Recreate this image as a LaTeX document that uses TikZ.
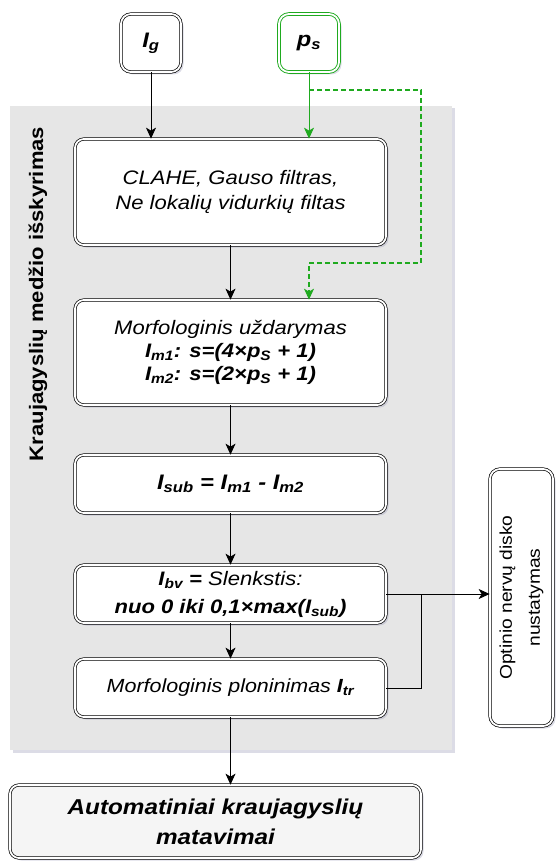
\documentclass[tikz,border=0pt]{standalone}
\usepackage{fontspec}
\setmainfont{Liberation Sans}[FakeStretch=1.13]
\usepackage{xcolor}
\usepackage{tikz}
\usetikzlibrary{shapes,arrows.meta,positioning,shadows}

\definecolor{regiongray}{HTML}{E6E6E6}
\definecolor{bottomgray}{HTML}{F5F5F5}
\definecolor{psgreen}{HTML}{1FAA1F}
\definecolor{shadowblue}{HTML}{9A9AB8}

\newcommand{\bi}[1]{{\bfseries\itshape #1}}
\newcommand{\sbs}[1]{\textsubscript{#1}}

\begin{document}
\begin{tikzpicture}[x=1pt, y=-1pt,
        softshadow/.style={drop shadow={shadow xshift=2.5pt, shadow yshift=-2.5pt, opacity=0.35, fill=shadowblue}},
        block/.style={draw, double, double distance=1.8pt, line width=0.7pt, rounded corners=9pt,
            fill=white, align=center, minimum width=311pt, softshadow,
            font=\fontsize{19.5}{25}\selectfont\itshape},
        inbox/.style={block, minimum width=60pt, minimum height=58pt, rounded corners=10pt,
            font=\fontsize{21}{24}\selectfont\bfseries\itshape},
        arr/.style={-{Stealth[length=11pt,width=10pt,inset=3pt]}, line width=0.8pt},
        garr/.style={arr, color=psgreen}]

    \useasboundingbox (0,0) rectangle (558,861);

    % extraction region
    \fill[regiongray, softshadow] (10,106) rectangle (452,750);
    \node[rotate=90, font=\fontsize{19.5}{24}\selectfont\bfseries] (regionlabel) at (38,294)
        {Kraujagyslių medžio išskyrimas};

    % inputs
    \node[inbox] (ig) at (151,43) {I\sbs{g}};
    \node[inbox, draw=psgreen, line width=0.9pt] (ps) at (309,43) {p\sbs{s}};

    % processing steps
    \node[block, minimum height=106pt] (prep) at (230.5,192)
        {CLAHE, Gauso filtras,\\Ne lokalių vidurkių filtas};
    \node[block, minimum height=105pt, font=\fontsize{19.5}{23}\selectfont\itshape] (closing) at (230.5,352.5)
        {Morfologinis uždarymas\\
         \bi{I\sbs{m1}: s=(4×p\sbs{S} + 1)}\\
         \bi{I\sbs{m2}: s=(2×p\sbs{S} + 1)}};
    \node[block, minimum height=58pt, font=\fontsize{21}{24}\selectfont\bfseries\itshape] (sub) at (230.5,484)
        {I\sbs{sub} = I\sbs{m1} - I\sbs{m2}};
    \node[block, minimum height=58pt, font=\fontsize{19.5}{28}\selectfont\itshape] (thresh) at (230.5,594)
        {\bi{I\sbs{bv} =} Slenkstis:\\
         \bi{nuo 0 iki 0,1×max(I\sbs{sub})}};
    \node[block, minimum height=58pt, font=\fontsize{19}{24}\selectfont\itshape] (thin) at (230.5,688)
        {Morfologinis ploninimas \bi{I\sbs{tr}}};

    % outputs
    \node[block, rotate=90, minimum width=257pt, minimum height=63pt, rounded corners=10pt,
        font=\fontsize{17}{28}\selectfont] (disc) at (521.5,597.5)
        {Optinio nervų disko\\nustatymas};
    \node[block, fill=bottomgray, minimum width=411pt, minimum height=73pt,
        font=\fontsize{21.5}{30}\selectfont\bfseries\itshape] (measure) at (215.5,821.5)
        {Automatiniai kraujagyslių\\matavimai};

    \coordinate (dashtop) at (421,90);
    \coordinate (dashbot) at (421,263);
    \coordinate (join) at (421,594);

    % connectors
    \draw[arr] (ig) -- (ig |- prep.north);
    \draw[garr] (ps) -- (ps |- prep.north);
    \draw[garr, dash pattern=on 5pt off 3pt, line width=1.1pt] (ps |- dashtop) -- (dashtop) -- (dashbot)
        -- (dashbot -| ps) -- (ps |- closing.north);
    \draw[arr] (prep) -- (closing);
    \draw[arr] (closing) -- (sub);
    \draw[arr] (sub) -- (thresh);
    \draw[arr] (thresh) -- (thin);
    \draw[arr] (thin.south) -- (thin.south |- measure.north);
    \draw[arr] (thresh.east) -- (thresh.east -| disc.north);
    \draw[line width=0.8pt] (thin.east) -| (join);
\end{tikzpicture}
\end{document}
